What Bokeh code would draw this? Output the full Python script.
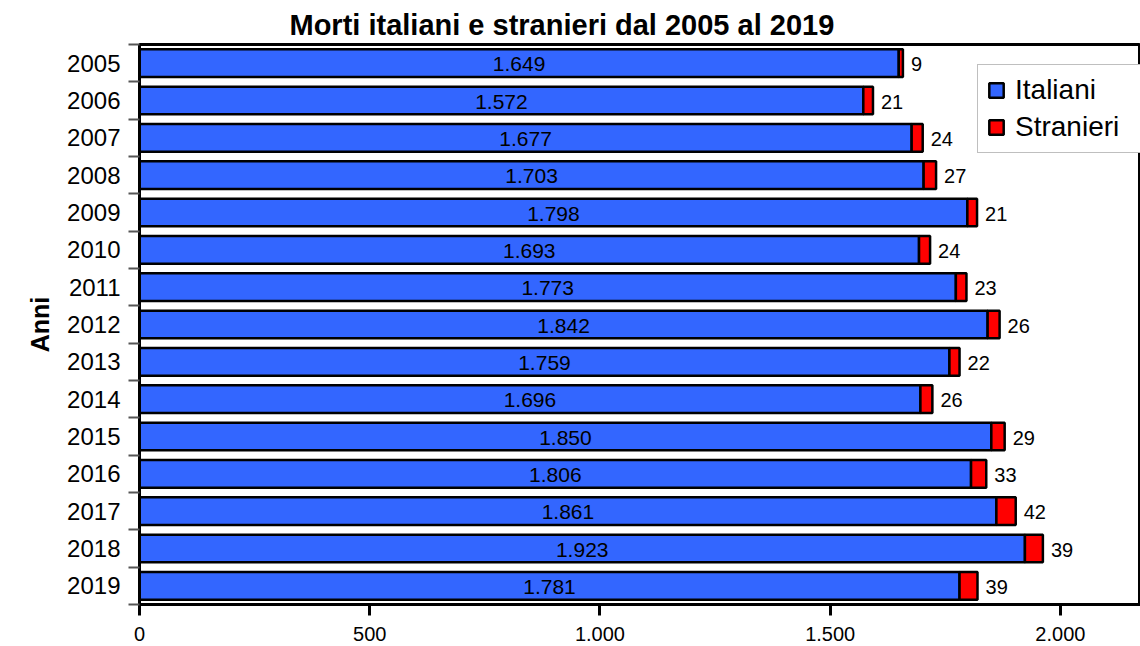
from bokeh.plotting import figure
from bokeh.models import ColumnDataSource, Range1d, FixedTicker, Legend, LegendItem, NumeralTickFormatter
from bokeh.core.properties import value
from bokeh.embed import file_html
from bokeh.resources import INLINE

years = [2005, 2006, 2007, 2008, 2009, 2010, 2011, 2012, 2013, 2014, 2015, 2016, 2017, 2018, 2019]
italiani = [1649, 1572, 1677, 1703, 1798, 1693, 1773, 1842, 1759, 1696, 1850, 1806, 1861, 1923, 1781]
stranieri = [9, 21, 24, 27, 21, 24, 23, 26, 22, 26, 29, 33, 42, 39, 39]
x_ticks = [0, 500, 1000, 1500, 2000]
x_tick_labels = ["0", "500", "1.000", "1.500", "2.000"]

FONT = "Liberation Sans"
BLUE = "#3366FF"
RED = "#FF0000"

def it_fmt(v):
    return f"{v:,}".replace(",", ".")

src = ColumnDataSource(dict(
    year=years,
    ita=italiani,
    stra=stranieri,
    total=[a + b for a, b in zip(italiani, stranieri)],
    mid=[a / 2 for a in italiani],
    ita_lbl=[it_fmt(a) for a in italiani],
    stra_lbl=[str(b) for b in stranieri],
))

p = figure(width=1140, height=646, output_backend="svg", toolbar_location=None,
           x_range=Range1d(0, 2174), y_range=Range1d(2019.5, 2004.5),
           min_border_left=139, min_border_right=0, min_border_top=44, min_border_bottom=42)

p.background_fill_color = "white"
p.border_fill_color = "white"
p.outline_line_color = "black"
p.outline_line_width = 3
p.xgrid.visible = False
p.ygrid.visible = False

r1 = p.hbar(y="year", left=0, right="ita", height=0.74, source=src,
            fill_color=BLUE, line_color="black", line_width=2.5)
r2 = p.hbar(y="year", left="ita", right="total", height=0.74, source=src,
            fill_color=RED, line_color="black", line_width=2.5)

p.text(x="mid", y="year", text="ita_lbl", source=src, text_align="center",
       text_baseline="middle", text_font=value(FONT), text_font_size="21px",
       text_color="black", y_offset=1)
p.text(x="total", y="year", text="stra_lbl", source=src, text_align="left",
       text_baseline="middle", text_font=value(FONT), text_font_size="20px",
       text_color="black", x_offset=8, y_offset=1)

# title
p.title.text = "Morti italiani e stranieri dal 2005 al 2019"
p.title.text_font = FONT
p.title.text_font_size = "29px"
p.title.text_font_style = "bold"
p.title.align = "left"
p.title.offset = 150
p.title.standoff = 7
p.title.text_color = "black"

# x axis
xa = p.xaxis[0]
xa.ticker = FixedTicker(ticks=x_ticks, minor_ticks=[])
xa.major_label_overrides = {t: l for t, l in zip(x_ticks, x_tick_labels)}
xa.axis_line_width = 3
xa.axis_line_color = "black"
xa.major_tick_out = 11
xa.major_tick_in = 0
xa.major_tick_line_width = 3
xa.minor_tick_out = 0
xa.minor_tick_in = 0
xa.major_label_text_font = FONT
xa.major_label_text_font_size = "20px"
xa.major_label_text_color = "black"
xa.major_label_standoff = 11

# y axis
ya = p.yaxis[0]
ya.ticker = FixedTicker(ticks=years, minor_ticks=[y - 0.5 for y in years] + [years[-1] + 0.5])
ya.formatter = NumeralTickFormatter(format="0")
ya.axis_line_width = 3
ya.axis_line_color = "black"
ya.major_tick_out = 0
ya.major_tick_in = 0
ya.minor_tick_out = 11
ya.minor_tick_in = 0
ya.minor_tick_line_color = "#555555"
ya.minor_tick_line_width = 2
ya.major_label_text_font = FONT
ya.major_label_text_font_size = "24px"
ya.major_label_text_color = "black"
ya.major_label_standoff = 8
ya.axis_label = "Anni"
ya.axis_label_text_font = FONT
ya.axis_label_text_font_size = "25px"
ya.axis_label_text_font_style = "bold"
ya.axis_label_text_color = "black"
ya.axis_label_standoff = 10

legend = Legend(items=[LegendItem(label="Italiani", renderers=[r1]),
                       LegendItem(label="Stranieri", renderers=[r2])],
                location=(838, 451))
legend.label_text_font = FONT
legend.label_text_font_size = "28px"
legend.label_text_color = "black"
legend.glyph_width = 18
legend.glyph_height = 18
legend.label_standoff = 10
legend.label_width = 130
legend.padding = 9
legend.spacing = 5
legend.margin = 0
legend.border_line_color = "#808080"
legend.border_line_width = 1
legend.background_fill_color = "white"
legend.background_fill_alpha = 1
p.add_layout(legend)

open("out.html", "w").write(file_html(p, INLINE))
